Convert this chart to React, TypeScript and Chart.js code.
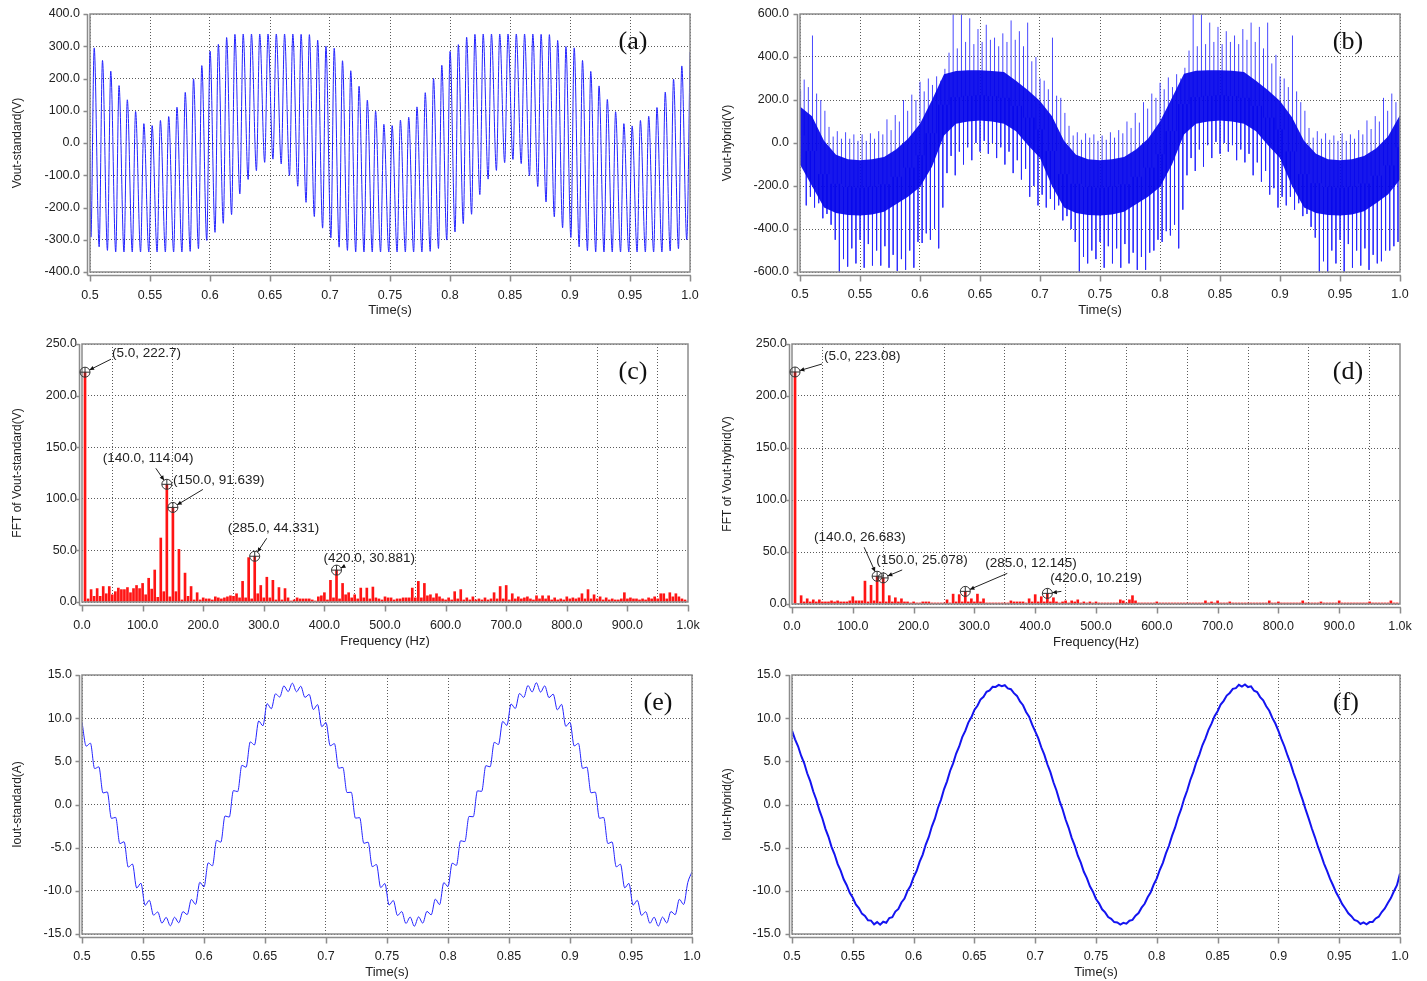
import React, { useEffect, useRef } from "react";
import { Chart, registerables } from "chart.js";

Chart.register(...registerables);

const FONT = '"Liberation Sans", Arial, Helvetica, sans-serif';
const SERIF = '"Liberation Serif", "Times New Roman", serif';

// ---------------- axis ticks ----------------
const TIME_TICKS = [0.5, 0.55, 0.6, 0.65, 0.7, 0.75, 0.8, 0.85, 0.9, 0.95, 1.0];
const TIME_TICK_LABELS = ["0.5", "0.55", "0.6", "0.65", "0.7", "0.75", "0.8", "0.85", "0.9", "0.95", "1.0"];
const FREQ_TICKS = [0, 100, 200, 300, 400, 500, 600, 700, 800, 900, 1000];
const FREQ_TICK_LABELS = ["0.0", "100.0", "200.0", "300.0", "400.0", "500.0", "600.0", "700.0", "800.0", "900.0", "1.0k"];
const VA_TICKS = [-400, -300, -200, -100, 0, 100, 200, 300, 400];
const VA_TICK_LABELS = ["-400.0", "-300.0", "-200.0", "-100.0", "0.0", "100.0", "200.0", "300.0", "400.0"];
const VB_TICKS = [-600, -400, -200, 0, 200, 400, 600];
const VB_TICK_LABELS = ["-600.0", "-400.0", "-200.0", "0.0", "200.0", "400.0", "600.0"];
const FFT_TICKS = [0, 50, 100, 150, 200, 250];
const FFT_TICK_LABELS = ["0.0", "50.0", "100.0", "150.0", "200.0", "250.0"];
const I_TICKS = [-15, -10, -5, 0, 5, 10, 15];
const I_TICK_LABELS = ["-15.0", "-10.0", "-5.0", "0.0", "5.0", "10.0", "15.0"];

// ---------------- time base ----------------
const SWITCH_PERIOD = 0.2 / 29; // one carrier cycle (145 Hz)
const FIRST_CYCLE_T = 0.5035;
const E_SAMPLE_STEP = 0.2 / 58;
const F_SAMPLE_STEP = 0.0025;
const BAND_STEP = 0.01;
const FFT_STEP = 5;

// ---------------- (a) Vout-standard: per-cycle peaks / troughs ----------------
const A_START = -23;
const A_PEAKS = [
  295, 256, 223, 178, 134, 98, 60, 54, 70, 82, 111, 157, 199, 240, 285, 306, 327, 337, 338, 338, 338, 338, 338, 338, 338, 337, 336, 319, 300,
  294, 255, 224, 176, 133, 99, 58, 54, 71, 80, 112, 156, 200, 241, 284, 305, 328, 337, 338, 338, 338, 338, 338, 338, 338, 337, 336, 318, 299,
  295, 256, 222, 177, 135, 97, 60, 53, 70, 83, 110, 158, 198, 239, 282,
];
const A_TROUGHS = [
  -292, -322, -333, -338, -338, -338, -338, -338, -338, -338, -338, -338, -336, -328, -302, -277, -249, -222, -158, -113, -86, -60, -50, -65, -101, -134, -184, -228, -264,
  -294, -323, -333, -338, -338, -338, -338, -338, -338, -338, -338, -338, -336, -327, -301, -276, -250, -221, -160, -112, -85, -61, -51, -64, -102, -135, -183, -229, -263,
  -293, -322, -334, -338, -338, -338, -338, -338, -338, -338, -338, -338, -335, -328, -300,
];

// ---------------- (b) Vout-hybrid: dense band + spikes ----------------
const B_BAND_HI = [
  170, 125, 10, -55, -75, -80, -75, -65, -30, 20, 90, 200, 320, 335, 338, 338, 335, 330, 290, 245,
  195, 125, 10, -55, -75, -80, -75, -65, -30, 20, 100, 210, 322, 336, 338, 338, 336, 330, 290, 245,
  195, 120, 10, -50, -75, -80, -75, -60, -25, 30, 130,
];
const B_BAND_LO = [
  -100, -200, -300, -325, -335, -337, -333, -320, -285, -250, -205, -110, 35, 90, 100, 105, 100, 90, 55, -10,
  -70, -200, -300, -325, -335, -337, -333, -320, -285, -250, -205, -100, 40, 90, 100, 105, 100, 90, 55, -10,
  -70, -200, -300, -325, -335, -337, -333, -318, -280, -240, -170,
];
const B_START_SPIKE = 245;
const B_UP = [
  295, 500, 200, 75, 55, 50, 40, 40, 45, 55, 110, 130, 200, 225, 285, 300, 310, 345, 600, 600, 580, 530, 550, 490, 510, 570, 520, 560, 400,
  290, 490, 210, 80, 50, 45, 40, 35, 50, 60, 100, 140, 190, 230, 280, 305, 320, 350, 600, 600, 560, 540, 520, 500, 530, 560, 540, 560, 410,
  300, 500, 190, 70, 55, 45, 35, 45, 40, 60, 105, 125, 210, 230, 290,
];
const B_DOWN = [
  -290, -300, -350, -380, -600, -575, -560, -580, -570, -570, -580, -595, -590, -580, -465, -450, -490, -140, -150, -100, -80, -40, -50, -70, -100, -140, -170, -250, -290,
  -300, -310, -360, -400, -600, -560, -540, -580, -560, -580, -560, -590, -590, -500, -460, -430, -490, -150, -130, -110, -70, -50, -40, -80, -90, -150, -180, -240, -300,
  -290, -310, -340, -390, -600, -600, -560, -600, -580, -570, -590, -560, -500, -480, -460,
];
const B_UP_HALF = [
  260, 230, 150, 30, 20, 20, 10, 10, 20, 40, 60, 100, 150, 200, 240, 270, 290, 420, 440, 470, 460, 470, 480, 450, 470, 480, 450, 380, 300,
  250, 220, 140, 35, 15, 25, 10, 15, 25, 45, 70, 95, 160, 210, 250, 260, 300, 430, 450, 460, 470, 460, 470, 460, 480, 470, 440, 370, 310,
  260, 240, 150, 25, 20, 15, 10, 10, 20, 40, 65, 100, 150, 190, 240,
];
const B_DOWN_HALF = [
  -250, -280, -330, -450, -540, -490, -450, -470, -500, -480, -520, -540, -500, -460, -420, -400, -300, -60, -40, -20, 0, 10, 0, -20, -40, -80, -120, -200, -240,
  -260, -290, -340, -460, -530, -500, -460, -480, -490, -470, -510, -530, -510, -450, -410, -380, -310, -70, -30, -10, 5, 0, -10, -30, -50, -90, -130, -210, -250,
  -250, -280, -330, -440, -550, -500, -450, -470, -500, -490, -520, -550, -500, -460, -420,
];

// ---------------- (c) FFT of Vout-standard, 5 Hz .. 1000 Hz ----------------
const C_FFT = [
  222.7, 3, 12, 5.5, 13, 5.5, 15, 8, 15, 7, 10, 13.5, 12, 12, 14, 9, 13, 16, 13, 18,
  7, 23, 12.5, 31, 4.5, 62, 10, 114.04, 5, 91.639, 10, 51, 2, 28, 5.5, 15, 2, 9, 2, 4,
  3, 3, 2, 5, 4, 3, 4, 5, 6, 5.5, 8, 4, 20, 4, 43, 3, 44.331, 8, 16, 4,
  24, 4, 21, 2, 14, 2, 13, 4, 1, 2, 4, 3, 3, 3, 3, 2, 1, 5, 6, 9,
  2, 21, 4, 30.881, 3, 18, 7, 9, 4, 7, 3, 13.5, 4, 13.5, 3, 14.5, 4, 3, 2, 5,
  4, 4, 2, 3, 3, 4, 4, 4, 13.5, 4, 20, 4, 18, 6, 7, 4, 8, 5, 3, 2,
  4, 2, 10, 3, 12, 2, 4, 2, 5, 2, 3, 2, 4, 2, 3, 9, 3, 15, 3, 16,
  2, 8, 3, 5, 3, 4, 5, 3, 2, 6, 3, 6, 3, 6, 2, 4, 2, 3, 2, 5,
  3, 4, 3, 4, 8, 3, 12, 3, 7, 3, 5, 2, 4, 2, 3, 2, 2, 3, 9, 3,
  4, 3, 3, 2, 3, 2, 4, 3, 5, 3, 8, 8, 3, 9, 5, 8, 5, 3, 2, 1,
];
const C_MARK_F = [5, 140, 150, 285, 420];
const C_MARK_V = [222.7, 114.04, 91.639, 44.331, 30.881];
const C_MARK_TEXT = ["(5.0, 222.7)", "(140.0, 114.04)", "(150.0, 91.639)", "(285.0, 44.331)", "(420.0, 30.881)"];

// ---------------- (d) FFT of Vout-hybrid ----------------
const D_FFT = [
  223.08, 0.5, 8, 2, 5, 2, 4, 2, 4, 2, 2, 2, 3, 2, 3, 2, 2, 2, 3, 7,
  3, 3, 3, 22, 2, 18, 3, 26.683, 2, 25.078, 2, 8, 2, 6, 2, 5, 2, 2, 1, 2,
  1, 1, 2, 2, 2, 1, 1, 1, 1, 1, 4, 1, 9.5, 2, 9, 2, 12.145, 2, 5, 2,
  9.5, 2, 5, 1, 1, 1, 1, 1, 1, 1, 1, 3, 2, 2, 2, 2, 1, 5, 2, 9,
  2, 7, 2, 10.219, 2, 6, 2, 1, 2, 3, 1, 3, 2, 4, 1, 2, 1, 2, 1, 2,
  1, 1, 1, 1, 1, 1, 1, 4, 3, 1, 4, 8, 3, 1, 1, 1, 1, 1, 1, 2,
  1, 1, 1, 1, 1, 1, 1, 1, 1, 1, 1, 1, 1, 1, 1, 3, 1, 2, 1, 3,
  1, 1, 1, 2, 1, 1, 1, 1, 1, 1, 1, 1, 1, 1, 1, 1, 3, 1, 1, 2,
  1, 1, 1, 1, 1, 1, 1, 3, 1, 1, 1, 1, 1, 2, 1, 1, 1, 1, 1, 3,
  1, 1, 1, 1, 1, 1, 1, 1, 1, 2, 1, 1, 1, 1, 1, 1, 3, 1, 1, 1,
];
const D_MARK_F = [5, 140, 150, 285, 420];
const D_MARK_V = [223.08, 26.683, 25.078, 12.145, 10.219];
const D_MARK_TEXT = ["(5.0, 223.08)", "(140.0, 26.683)", "(150.0, 25.078)", "(285.0, 12.145)", "(420.0, 10.219)"];

// ---------------- (e) Iout-standard ----------------
const E_CURRENT = [
  9.54, 6.76, 7.10, 4.16, 4.36, 1.33, 1.46, -1.61, -1.49, -4.53,
  -4.32, -7.25, -6.90, -9.67, -9.12, -11.68, -11.09, -12.82, -12.45, -13.74,
  -13.08, -14.05, -13.06, -13.70, -12.41, -12.75, -11.00, -11.57, -9.02, -9.54,
  -6.76, -7.10, -4.16, -4.36, -1.33, -1.46, 1.61, 1.49, 4.53, 4.32,
  7.25, 6.90, 9.67, 9.12, 11.68, 11.09, 12.82, 12.45, 13.74, 13.08,
  14.05, 13.06, 13.70, 12.41, 12.75, 11.00, 11.57, 9.02,
  9.50, 6.80, 7.05, 4.20, 4.30, 1.38, 1.42, -1.58, -1.52, -4.50,
  -4.36, -7.20, -6.95, -9.62, -9.16, -11.64, -11.12, -12.86, -12.40, -13.78,
  -13.04, -14.10, -13.02, -13.74, -12.38, -12.78, -10.96, -11.60, -9.06, -9.50,
  -6.80, -7.05, -4.20, -4.30, -1.38, -1.42, 1.58, 1.52, 4.50, 4.36,
  7.20, 6.95, 9.62, 9.16, 11.64, 11.12, 12.86, 12.40, 13.78, 13.04,
  14.10, 13.02, 13.74, 12.38, 12.78, 10.96, 11.60, 9.06,
  9.52, 6.78, 7.08, 4.18, 4.34, 1.35, 1.44, -1.60, -1.50, -4.52,
  -4.34, -7.22, -6.92, -9.65, -9.14, -11.66, -11.10, -12.84, -12.42, -13.76,
  -13.06, -14.08, -13.04, -13.72, -12.40, -12.76, -10.98, -11.58, -9.04, -7.80,
];

// ---------------- (f) Iout-hybrid (every 2.5 ms) ----------------
const F_CURRENT = [
  8.55, 7.55, 6.74, 5.65, 4.80, 3.62, 2.70, 1.50, 0.55, -0.66,
  -1.62, -2.82, -3.74, -4.90, -5.77, -6.88, -7.66, -8.66, -9.35, -10.24,
  -10.80, -11.58, -12.00, -12.64, -12.90, -13.42, -13.45, -13.88, -13.62, -13.92,
  -13.58, -13.70, -13.15, -13.05, -12.40, -12.10, -11.35, -10.90, -10.00, -9.42,
  -8.42, -7.70, -6.62, -5.80, -4.64, -3.76, -2.55, -1.64, -0.40, 0.54,
  1.76, 2.68, 3.88, 4.76, 5.91, 6.72, 7.80, 8.52, 9.49, 10.10,
  10.95, 11.44, 12.15, 12.48, 13.05, 13.22, 13.63, 13.62, 13.85, 13.70,
  13.82, 13.45, 13.35, 12.90, 12.58, 11.94, 11.50, 10.72, 10.18, 9.25,
  8.46, 7.68, 6.63, 5.78, 4.66, 3.75, 2.58, 1.62, 0.42, -0.55,
  -1.74, -2.70, -3.86, -4.77, -5.90, -6.74, -7.79, -8.52, -9.48, -10.10,
  -10.94, -11.45, -12.14, -12.50, -13.04, -13.25, -13.62, -13.66, -13.90, -13.70,
  -13.80, -13.46, -13.36, -12.88, -12.58, -11.95, -11.50, -10.74, -10.16, -9.26,
  -8.56, -7.56, -6.75, -5.66, -4.78, -3.63, -2.69, -1.50, -0.54, 0.66,
  1.62, 2.81, 3.75, 4.89, 5.78, 6.86, 7.67, 8.65, 9.36, 10.23,
  10.81, 11.57, 12.01, 12.62, 12.92, 13.40, 13.48, 13.86, 13.65, 13.90,
  13.60, 13.68, 13.18, 13.02, 12.44, 12.06, 11.38, 10.86, 10.03, 9.38,
  8.52, 7.58, 6.72, 5.68, 4.76, 3.64, 2.66, 1.52, 0.50, -0.63,
  -1.66, -2.78, -3.77, -4.86, -5.80, -6.84, -7.69, -8.62, -9.38, -10.20,
  -10.84, -11.54, -12.04, -12.60, -12.94, -13.38, -13.50, -13.84, -13.66, -13.88,
  -13.62, -13.60, -13.20, -13.00, -12.46, -12.04, -11.40, -10.84, -10.05, -9.35,
  -8.0,
];

// ---------------- layout constants (not data) ----------------
const C_MARK_LAYOUT = [
  { tdx: 27, tdy: -19, lx: 26, ly: -13 },
  { tdx: -64, tdy: -26, lx: -11, ly: -16 },
  { tdx: 0, tdy: -27, lx: 30, ly: -18 },
  { tdx: -27, tdy: -28, lx: 12, ly: -18 },
  { tdx: -13, tdy: -12, lx: 8, ly: -4 },
];
const D_MARK_LAYOUT = [
  { tdx: 29, tdy: -16, lx: 27, ly: -8 },
  { tdx: -63, tdy: -39, lx: -13, ly: -29 },
  { tdx: -7, tdy: -18, lx: 19, ly: -8 },
  { tdx: 20, tdy: -28, lx: 42, ly: -18 },
  { tdx: 3, tdy: -15, lx: 14, ly: -2 },
];

// ---------------- build series ----------------
type Pt = { x: number; y: number | null };
const cycleTime = (k: number, frac: number) => FIRST_CYCLE_T + (k + frac) * SWITCH_PERIOD;

function seriesA(): Pt[] {
  const pts: Pt[] = [{ x: 0.5, y: A_START }];
  A_PEAKS.forEach((p, k) => {
    pts.push({ x: cycleTime(k, -0.4), y: A_TROUGHS[k] });
    pts.push({ x: cycleTime(k, 0), y: p });
  });
  return pts;
}
function bandSeries(arr: number[]): Pt[] {
  return arr.map((v, i) => ({ x: 0.5 + i * BAND_STEP, y: v }));
}
function bandMid(t: number) {
  const i = Math.min(B_BAND_HI.length - 1, Math.max(0, Math.round((t - 0.5) / BAND_STEP)));
  return (B_BAND_HI[i] + B_BAND_LO[i]) / 2;
}
function spikesB(): Pt[] {
  const pts: Pt[] = [];
  const add = (t: number, tip: number) => {
    pts.push({ x: t, y: bandMid(t) }, { x: t, y: tip }, { x: t, y: null });
  };
  add(0.5005, B_START_SPIKE);
  B_UP.forEach((u, k) => {
    add(cycleTime(k, 0), u);
    add(cycleTime(k, 0.25), B_DOWN[k]);
    add(cycleTime(k, 0.5), B_UP_HALF[k]);
    add(cycleTime(k, 0.75), B_DOWN_HALF[k]);
  });
  return pts;
}
const fftSeries = (arr: number[]) => arr.map((v, i) => ({ x: (i + 1) * FFT_STEP, y: v }));
const sampled = (arr: number[], step: number) => arr.map((v, i) => ({ x: 0.5 + i * step, y: v }));

// ---------------- panel spec ----------------
type Marker = { f: number; v: number; text: string; tdx: number; tdy: number; lx: number; ly: number };
type PanelSpec = {
  key: string;
  box: { left: number; top: number; width: number; height: number };
  padTop: number; padRight: number; yW: number; xH: number;
  xMin: number; xMax: number; xTicks: number[]; xLabels: string[];
  yMin: number; yMax: number; yTicks: number[]; yLabels: string[];
  xTitle: string; yTitle: string; yGap: number; xGap: number; xTitlePad: number;
  tag: string; tagDx: number;
  type: "line" | "bar";
  datasets: any[];
  markers?: Marker[];
};

function panelPlugin(spec: PanelSpec) {
  return {
    id: "panelDeco" + spec.key,
    afterDraw(chart: any) {
      const { ctx, chartArea: a } = chart;
      const xs = chart.scales.x, ys = chart.scales.y;
      ctx.save();
      ctx.strokeStyle = "#8c8c8c";
      ctx.lineWidth = 1.5;
      ctx.strokeRect(a.left, a.top, a.right - a.left, a.bottom - a.top);
      const yb = a.bottom + 3.5;
      const xl = a.left - 2.5;
      ctx.beginPath();
      ctx.moveTo(xl, yb);
      ctx.lineTo(a.right + 1, yb);
      ctx.moveTo(xl, a.top);
      ctx.lineTo(xl, yb);
      xs.ticks.forEach((t: any) => {
        const px = Math.round(xs.getPixelForValue(t.value)) + 0.5;
        ctx.moveTo(px, yb);
        ctx.lineTo(px, yb + 6);
      });
      ys.ticks.forEach((t: any) => {
        const py = Math.round(ys.getPixelForValue(t.value)) + 0.5;
        ctx.moveTo(xl, py);
        ctx.lineTo(xl - 4, py);
      });
      ctx.stroke();
      if (spec.markers) {
        ctx.font = `13.5px ${FONT}`;
        ctx.textAlign = "left";
        ctx.textBaseline = "middle";
        spec.markers.forEach((m) => {
          const px = xs.getPixelForValue(m.f), py = ys.getPixelForValue(m.v);
          const r = 5;
          ctx.strokeStyle = "#333";
          ctx.lineWidth = 1;
          ctx.beginPath();
          ctx.arc(px, py, r, 0, Math.PI * 2);
          ctx.moveTo(px - r, py); ctx.lineTo(px + r, py);
          ctx.moveTo(px, py - r); ctx.lineTo(px, py + r);
          ctx.stroke();
          const sx = px + m.lx, sy = py + m.ly;
          const ang = Math.atan2(py - sy, px - sx);
          const ex = px - Math.cos(ang) * r, ey = py - Math.sin(ang) * r;
          ctx.strokeStyle = "#222";
          ctx.beginPath();
          ctx.moveTo(sx, sy); ctx.lineTo(ex, ey);
          ctx.stroke();
          ctx.fillStyle = "#111";
          ctx.beginPath();
          ctx.moveTo(ex, ey);
          ctx.lineTo(ex - Math.cos(ang - 0.45) * 5, ey - Math.sin(ang - 0.45) * 5);
          ctx.lineTo(ex - Math.cos(ang + 0.45) * 5, ey - Math.sin(ang + 0.45) * 5);
          ctx.closePath();
          ctx.fill();
          ctx.fillStyle = "#222";
          ctx.fillText(m.text, px + m.tdx, py + m.tdy);
        });
      }
      ctx.font = `26px ${SERIF}`;
      ctx.fillStyle = "#111";
      ctx.textAlign = "center";
      ctx.textBaseline = "middle";
      ctx.fillText(spec.tag, a.right - spec.tagDx, a.top + 28);
      ctx.restore();
    },
  };
}

function resetPadding(s: any) {
  s.paddingLeft = 0;
  s.paddingRight = 0;
  s.paddingTop = 0;
  s.paddingBottom = 0;
}

function buildConfig(spec: PanelSpec): any {
  const gridCommon = { color: "#5a5a5a", lineWidth: 1, drawTicks: false };
  const borderCommon = { display: false, dash: [1, 2] };
  return {
    type: spec.type,
    data: { datasets: spec.datasets },
    options: {
      animation: false,
      responsive: false,
      maintainAspectRatio: false,
      events: [],
      layout: { padding: { top: spec.padTop, right: spec.padRight, left: 0, bottom: 0 } },
      plugins: { legend: { display: false }, tooltip: { enabled: false } },
      scales: {
        x: {
          type: "linear",
          min: spec.xMin,
          max: spec.xMax,
          offset: false,
          afterBuildTicks: (s: any) => { s.ticks = spec.xTicks.map((v) => ({ value: v })); },
          afterFit: (s: any) => { s.height = spec.xH; resetPadding(s); },
          ticks: {
            autoSkip: false, maxRotation: 0, minRotation: 0, padding: spec.xGap,
            color: "#222", font: { size: 12.5, family: FONT },
            callback: (_v: any, i: number) => spec.xLabels[i],
          },
          grid: gridCommon,
          border: borderCommon,
          title: { display: true, text: spec.xTitle, color: "#222", font: { size: 13, family: FONT }, padding: { top: 0, bottom: spec.xTitlePad } },
        },
        y: {
          type: "linear",
          min: spec.yMin,
          max: spec.yMax,
          afterBuildTicks: (s: any) => { s.ticks = spec.yTicks.map((v) => ({ value: v })); },
          afterFit: (s: any) => { s.width = spec.yW; resetPadding(s); },
          ticks: {
            autoSkip: false, padding: spec.yGap,
            color: "#222", font: { size: 12.5, family: FONT },
            callback: (_v: any, i: number) => spec.yLabels[i],
          },
          grid: gridCommon,
          border: borderCommon,
          title: { display: true, text: spec.yTitle, color: "#222", font: { size: 12, family: FONT }, padding: { top: 10, bottom: 0 } },
        },
      },
    },
    plugins: [panelPlugin(spec)],
  };
}

const BLUE = "rgb(35,35,255)";

function makeMarkers(fs: number[], vs: number[], texts: string[], layout: typeof C_MARK_LAYOUT): Marker[] {
  return fs.map((f, i) => ({ f, v: vs[i], text: texts[i], ...layout[i] }));
}

function buildPanels(): PanelSpec[] {
  const timeAxis = { xMin: 0.5, xMax: 1.0, xTicks: TIME_TICKS, xLabels: TIME_TICK_LABELS };
  const freqAxis = { xMin: 0, xMax: 1000, xTicks: FREQ_TICKS, xLabels: FREQ_TICK_LABELS };
  const fftBar = (arr: number[]) => ({
    type: "bar", data: fftSeries(arr), backgroundColor: "rgb(255,20,20)", borderWidth: 0,
    barThickness: 2, grouped: false,
  });
  return [
    {
      key: "a", box: { left: 0, top: 0, width: 710, height: 325 },
      padTop: 14, padRight: 20, yW: 90, xH: 53, ...timeAxis,
      yMin: -400, yMax: 400, yTicks: VA_TICKS, yLabels: VA_TICK_LABELS,
      xTitle: "Time(s)", yTitle: "Vout-standard(V)", yGap: 10, xGap: 16, xTitlePad: 7,
      tag: "(a)", tagDx: 57, type: "line",
      datasets: [{
        data: seriesA(), borderColor: BLUE, borderWidth: 1, pointRadius: 0,
        cubicInterpolationMode: "monotone", fill: false,
      }],
    },
    {
      key: "b", box: { left: 710, top: 0, width: 717, height: 325 },
      padTop: 14, padRight: 27, yW: 90, xH: 53, ...timeAxis,
      yMin: -600, yMax: 600, yTicks: VB_TICKS, yLabels: VB_TICK_LABELS,
      xTitle: "Time(s)", yTitle: "Vout-hybrid(V)", yGap: 11, xGap: 15, xTitlePad: 7,
      tag: "(b)", tagDx: 52, type: "line",
      datasets: [
        { data: bandSeries(B_BAND_HI), borderColor: "rgba(10,10,240,0)", borderWidth: 0, pointRadius: 0, backgroundColor: "rgba(5,5,235,0.93)", fill: "+1", order: 1 },
        { data: bandSeries(B_BAND_LO), borderColor: "rgba(10,10,240,0)", borderWidth: 0, pointRadius: 0, fill: false, order: 2 },
        { data: spikesB(), borderColor: "rgba(40,40,255,0.85)", borderWidth: 1, pointRadius: 0, fill: false, spanGaps: false, order: 3 },
      ],
    },
    {
      key: "c", box: { left: 0, top: 325, width: 710, height: 330 },
      padTop: 19, padRight: 22, yW: 82, xH: 53, ...freqAxis,
      yMin: 0, yMax: 250, yTicks: FFT_TICKS, yLabels: FFT_TICK_LABELS,
      xTitle: "Frequency (Hz)", yTitle: "FFT of Vout-standard(V)", yGap: 5, xGap: 16, xTitlePad: 6,
      tag: "(c)", tagDx: 55, type: "bar",
      datasets: [fftBar(C_FFT)],
      markers: makeMarkers(C_MARK_F, C_MARK_V, C_MARK_TEXT, C_MARK_LAYOUT),
    },
    {
      key: "d", box: { left: 710, top: 325, width: 717, height: 330 },
      padTop: 19, padRight: 27, yW: 82, xH: 51, ...freqAxis,
      yMin: 0, yMax: 250, yTicks: FFT_TICKS, yLabels: FFT_TICK_LABELS,
      xTitle: "Frequency(Hz)", yTitle: "FFT of Vout-hybrid(V)", yGap: 5, xGap: 15, xTitlePad: 5,
      tag: "(d)", tagDx: 52, type: "bar",
      datasets: [fftBar(D_FFT)],
      markers: makeMarkers(D_MARK_F, D_MARK_V, D_MARK_TEXT, D_MARK_LAYOUT),
    },
    {
      key: "e", box: { left: 0, top: 655, width: 710, height: 326 },
      padTop: 20, padRight: 18, yW: 82, xH: 47, ...timeAxis,
      yMin: -15, yMax: 15, yTicks: I_TICKS, yLabels: I_TICK_LABELS,
      xTitle: "Time(s)", yTitle: "Iout-standard(A)", yGap: 10, xGap: 15, xTitlePad: 1,
      tag: "(e)", tagDx: 34, type: "line",
      datasets: [{
        data: sampled(E_CURRENT, E_SAMPLE_STEP), borderColor: BLUE, borderWidth: 1, pointRadius: 0,
        cubicInterpolationMode: "monotone", fill: false,
      }],
    },
    {
      key: "f", box: { left: 710, top: 655, width: 717, height: 326 },
      padTop: 20, padRight: 27, yW: 82, xH: 47, ...timeAxis,
      yMin: -15, yMax: 15, yTicks: I_TICKS, yLabels: I_TICK_LABELS,
      xTitle: "Time(s)", yTitle: "Iout-hybrid(A)", yGap: 11, xGap: 15, xTitlePad: 1,
      tag: "(f)", tagDx: 54, type: "line",
      datasets: [{
        data: sampled(F_CURRENT, F_SAMPLE_STEP), borderColor: "rgb(20,20,240)", borderWidth: 2, pointRadius: 0,
        tension: 0, fill: false,
      }],
    },
  ];
}

function PanelChart({ spec }: { spec: PanelSpec }) {
  const ref = useRef<HTMLCanvasElement | null>(null);
  useEffect(() => {
    if (!ref.current) return;
    const chart = new Chart(ref.current, buildConfig(spec));
    return () => chart.destroy();
  }, [spec]);
  const b = spec.box;
  return (
    <canvas
      ref={ref}
      width={b.width}
      height={b.height}
      style={{ position: "absolute", left: b.left, top: b.top, width: b.width, height: b.height }}
    />
  );
}

const PANELS = buildPanels();

export default function App() {
  return (
    <div style={{ position: "absolute", left: 0, top: 0, width: 1427, height: 981, background: "#ffffff", overflow: "hidden" }}>
      {PANELS.map((p) => (
        <PanelChart key={p.key} spec={p} />
      ))}
    </div>
  );
}
